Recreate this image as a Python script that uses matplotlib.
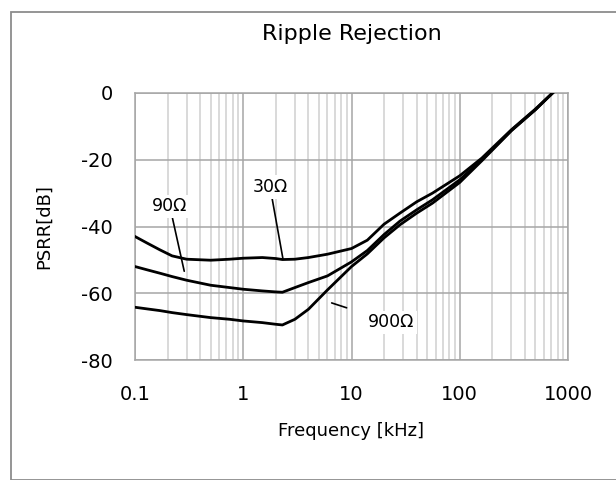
import matplotlib
matplotlib.use("Agg")
import matplotlib.pyplot as plt
from matplotlib.patches import Rectangle

# ---- data
freq_khz = [0.1, 0.13, 0.17, 0.22, 0.3, 0.5, 0.75, 1, 1.5, 2, 2.3, 3, 4, 6, 10, 14,
            20, 28, 40, 56, 100, 160, 300, 500, 720]
psrr_30 = [-43.0, -45.0, -47.0, -48.8, -49.8, -50.1, -49.8, -49.5, -49.3, -49.6, -49.9,
           -49.8, -49.3, -48.3, -46.6, -44.1, -39.3, -36.0, -32.6, -30.0, -24.8,
           -19.5, -11.0, -4.8, 0.0]
psrr_90 = [-52.0, -53.0, -54.0, -55.0, -56.1, -57.6, -58.3, -58.8, -59.3, -59.6, -59.7,
           -58.3, -56.8, -54.8, -50.6, -47.2, -42.4, -38.4, -35.0, -32.0, -26.0,
           -20.0, -11.2, -5.0, 0.0]
psrr_900 = [-64.2, -64.7, -65.2, -65.8, -66.4, -67.3, -67.8, -68.3, -68.8, -69.3, -69.5,
            -67.8, -64.8, -59.0, -52.0, -48.2, -43.4, -39.5, -36.0, -33.0, -26.8,
            -20.3, -11.3, -5.0, 0.0]
x_ticks = [0.1, 1, 10, 100, 1000]
x_tick_labels = ["0.1", "1", "10", "100", "1000"]
y_ticks = [0, -20, -40, -60, -80]

W, H = 616, 480
fig = plt.figure(figsize=(W / 100, H / 100), dpi=100)
fig.patch.set_facecolor("white")

# chart-area frame (runs off the right and bottom edges)
fig.patches.append(Rectangle((11 / W, 0), 1.0, 1 - 12 / H, transform=fig.transFigure,
                             fill=False, ec="#8c8c8c", lw=1.3, zorder=0))

ax = fig.add_axes([135 / W, 1 - 360 / H, (568 - 135) / W, (360 - 93) / H])
ax.set_xscale("log")
ax.set_xlim(0.1, 1000)
ax.set_ylim(-80, 0)

for series in (psrr_30, psrr_90, psrr_900):
    ax.plot(freq_khz, series, color="black", lw=2.0, zorder=3,
            solid_joinstyle="round")

ax.set_xticks(x_ticks)
ax.set_xticklabels(x_tick_labels)
ax.set_yticks(y_ticks)
ax.set_yticklabels([str(v) for v in y_ticks])
ax.tick_params(which="both", length=0, labelsize=14)
ax.tick_params(axis="x", pad=18)
ax.tick_params(axis="y", pad=16)

ax.grid(which="minor", axis="x", color="#d0d0d0", lw=1.1, zorder=0)
ax.grid(which="major", color="#a6a6a6", lw=1.1, zorder=1)
for sp in ax.spines.values():
    sp.set_color("#a6a6a6")
    sp.set_linewidth(1.1)

ax.set_xlabel("Frequency [kHz]", fontsize=13, labelpad=13)
ax.set_ylabel("PSRR[dB]", fontsize=13, labelpad=20)
ax.set_title("Ripple Rejection", fontsize=16, pad=38)

box = dict(fc="white", ec="none", pad=2)
arrow = dict(arrowstyle="-", color="black", lw=1.2, shrinkA=0, shrinkB=0)
ax.annotate("30Ω", xy=(2.33, -49.8), xytext=(1.77, -28.2), ha="center", va="center",
            fontsize=12.5, bbox=box, arrowprops=arrow, zorder=4)
ax.annotate("90Ω", xy=(0.285, -53.4), xytext=(0.21, -34.0), ha="center", va="center",
            fontsize=12.5, bbox=box, arrowprops=arrow, zorder=4)
ax.annotate("900Ω", xy=(6.56, -62.9), xytext=(23.2, -68.7), ha="center", va="center",
            fontsize=12.5, bbox=dict(fc="white", ec="none", pad=2),
            arrowprops=dict(arrowstyle="-", color="black", lw=1.2,
                            shrinkA=14, shrinkB=0), zorder=4)

fig.savefig("out.png", dpi=100)
